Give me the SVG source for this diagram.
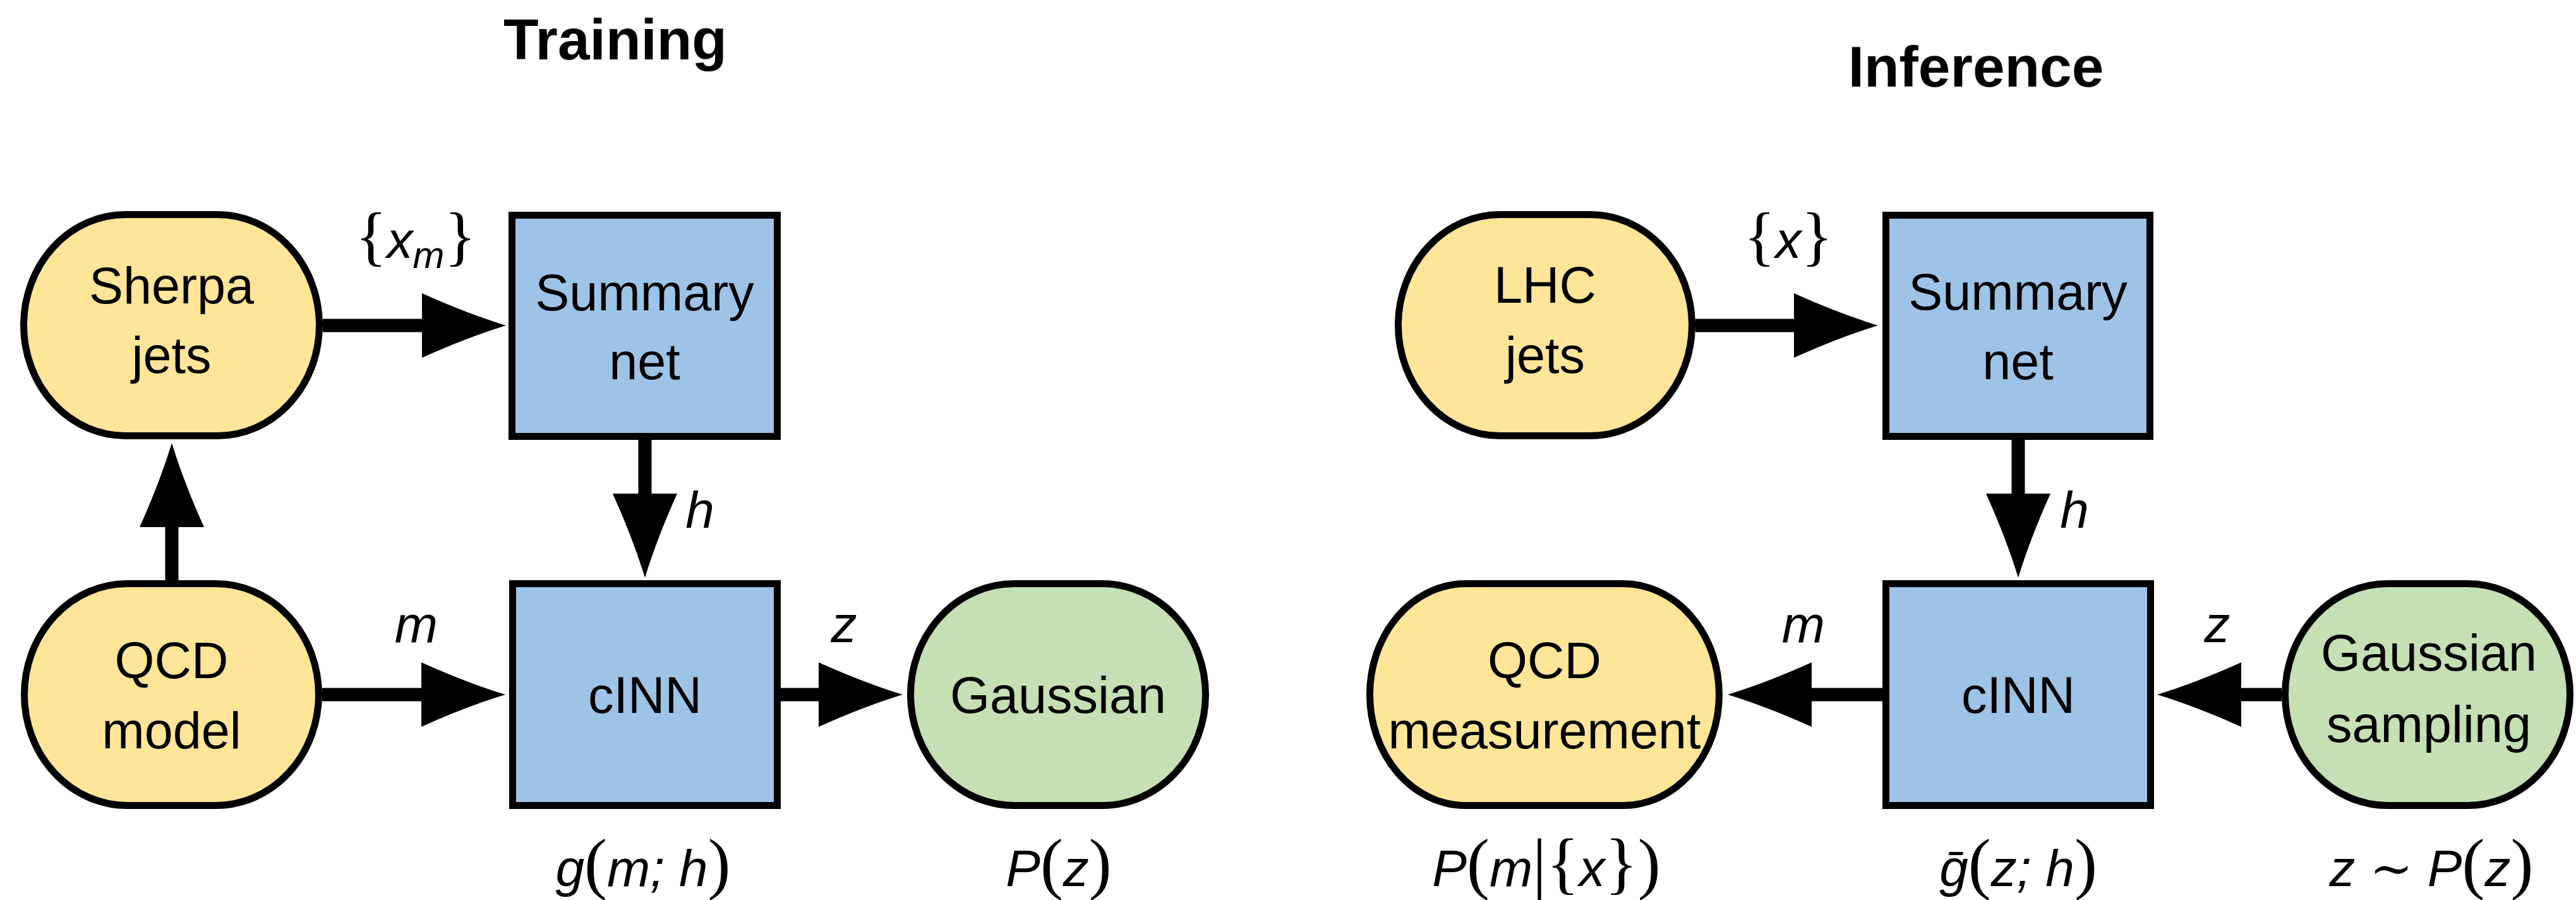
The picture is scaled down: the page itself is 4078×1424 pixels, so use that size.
<svg xmlns="http://www.w3.org/2000/svg" width="4078" height="1424" viewBox="0 0 4078 1424">
<style>
  .title { font-family: "Liberation Sans", Arial, sans-serif; font-weight: bold; font-size: 91px; fill: #000; text-anchor: middle; }
  .lbl { font-family: "Liberation Sans", Arial, sans-serif; font-size: 81px; fill: #000; text-anchor: middle; }
  .math { font-family: "Liberation Sans", "DejaVu Sans", sans-serif; font-style: italic; font-size: 82px; fill: #000; text-anchor: middle; }
  .up { font-family: "Liberation Serif", "DejaVu Serif", serif; font-style: normal; }
  .brace { font-family: "Liberation Serif", "DejaVu Serif", serif; font-style: normal; font-size: 104px; }
  .big { font-family: "Liberation Serif", "DejaVu Serif", serif; font-style: normal; font-size: 108px; }
  .sub { font-size: 60px; }
  .yellow { fill: #FFE598; stroke: #000; stroke-width: 11; }
  .blue { fill: #9DC3E6; stroke: #000; stroke-width: 11; }
  .green { fill: #C5E0B4; stroke: #000; stroke-width: 11; }
  .edge { stroke: #000; stroke-width: 21; fill: none; marker-end: url(#ah); }
</style>
<defs>
  <marker id="ah" viewBox="-136 -54 138 108" markerWidth="138" markerHeight="108" markerUnits="userSpaceOnUse" refX="-130" refY="0" orient="auto">
    <path d="M0,0 Q-62,-19 -133,-51 L-133,51 Q-62,19 0,0 Z" fill="#000"/>
  </marker>
</defs>

<rect width="4078" height="1424" fill="#fff"/>

<g id="titles">
  <text class="title" x="974" y="94">Training</text>
  <text class="title" x="3128" y="137">Inference</text>
</g>

<g id="connectors">
  <path class="edge" d="M511,515 H671"/>
  <path class="edge" d="M272,918 V831"/>
  <path class="edge" d="M1021,696 V784"/>
  <path class="edge" d="M510,1099 H670"/>
  <path class="edge" d="M1236,1099 H1299"/>
  <path class="edge" d="M2684,515 H2843"/>
  <path class="edge" d="M3195,696 V784"/>
  <path class="edge" d="M2980,1099 H2865"/>
  <path class="edge" d="M3612,1099 H3545"/>
</g>

<g id="edge-labels">
  <text class="math" x="658" y="408"><tspan class="brace">{</tspan>x<tspan class="sub" dy="16">m</tspan><tspan class="brace" dy="-16">}</tspan></text>
  <text class="math" x="1108" y="835" text-anchor="start">h</text>
  <text class="math" x="659" y="1016">m</text>
  <text class="math" x="1336" y="1016">z</text>
  <text class="math" x="2831" y="408"><tspan class="brace">{</tspan>x<tspan class="brace">}</tspan></text>
  <text class="math" x="3284" y="835" text-anchor="start">h</text>
  <text class="math" x="2855" y="1016">m</text>
  <text class="math" x="3510" y="1016">z</text>
</g>

<g id="node-sherpa">
  <rect class="yellow" x="37.5" y="339.5" width="468" height="350" rx="161" ry="175"/>
  <text class="lbl" x="271.5" y="480">Sherpa</text>
  <text class="lbl" x="271.5" y="590">jets</text>
</g>
<g id="node-summary-train">
  <rect class="blue" x="810.5" y="340.5" width="420" height="350"/>
  <text class="lbl" x="1020.5" y="491">Summary</text>
  <text class="lbl" x="1020.5" y="600">net</text>
</g>
<g id="node-qcd-model">
  <rect class="yellow" x="38.5" y="923.5" width="466" height="351" rx="163" ry="175.5"/>
  <text class="lbl" x="271.5" y="1073">QCD</text>
  <text class="lbl" x="271.5" y="1184">model</text>
</g>
<g id="node-cinn-train">
  <rect class="blue" x="811.5" y="923.5" width="419" height="351"/>
  <text class="lbl" x="1021" y="1128">cINN</text>
</g>
<g id="node-gaussian">
  <rect class="green" x="1441.5" y="923.5" width="467" height="351" rx="164" ry="175.5"/>
  <text class="lbl" x="1675" y="1128">Gaussian</text>
</g>

<g id="node-lhc">
  <rect class="yellow" x="2213.5" y="339.5" width="465" height="350" rx="161" ry="175"/>
  <text class="lbl" x="2446" y="479">LHC</text>
  <text class="lbl" x="2446" y="590">jets</text>
</g>
<g id="node-summary-inf">
  <rect class="blue" x="2985.5" y="340.5" width="418" height="350"/>
  <text class="lbl" x="3194.5" y="490">Summary</text>
  <text class="lbl" x="3194.5" y="600">net</text>
</g>
<g id="node-qcd-measurement">
  <rect class="yellow" x="2168.5" y="923.5" width="553" height="351" rx="152" ry="175.5"/>
  <text class="lbl" x="2445" y="1073">QCD</text>
  <text class="lbl" x="2445" y="1184">measurement</text>
</g>
<g id="node-cinn-inf">
  <rect class="blue" x="2985.5" y="923.5" width="419" height="351"/>
  <text class="lbl" x="3195" y="1128">cINN</text>
</g>
<g id="node-gaussian-sampling">
  <rect class="green" x="3617.5" y="923.5" width="451" height="351" rx="162" ry="175.5"/>
  <text class="lbl" x="3845" y="1061">Gaussian</text>
  <text class="lbl" x="3845" y="1174">sampling</text>
</g>

<g id="annotations">
  <text class="math" x="1018" y="1402">g<tspan class="big">(</tspan>m; h<tspan class="big">)</tspan></text>
  <text class="math" x="1676" y="1402">P<tspan class="big">(</tspan>z<tspan class="big">)</tspan></text>
  <text class="math" x="2448" y="1402">P<tspan class="big">(</tspan>m<tspan class="big">|{</tspan>x<tspan class="big">})</tspan></text>
  <text class="math" x="3195" y="1402">ḡ<tspan class="big">(</tspan>z; h<tspan class="big">)</tspan></text>
  <text class="math" x="3849" y="1402">z <tspan class="up">∼</tspan> P<tspan class="big">(</tspan>z<tspan class="big">)</tspan></text>
</g>
</svg>
